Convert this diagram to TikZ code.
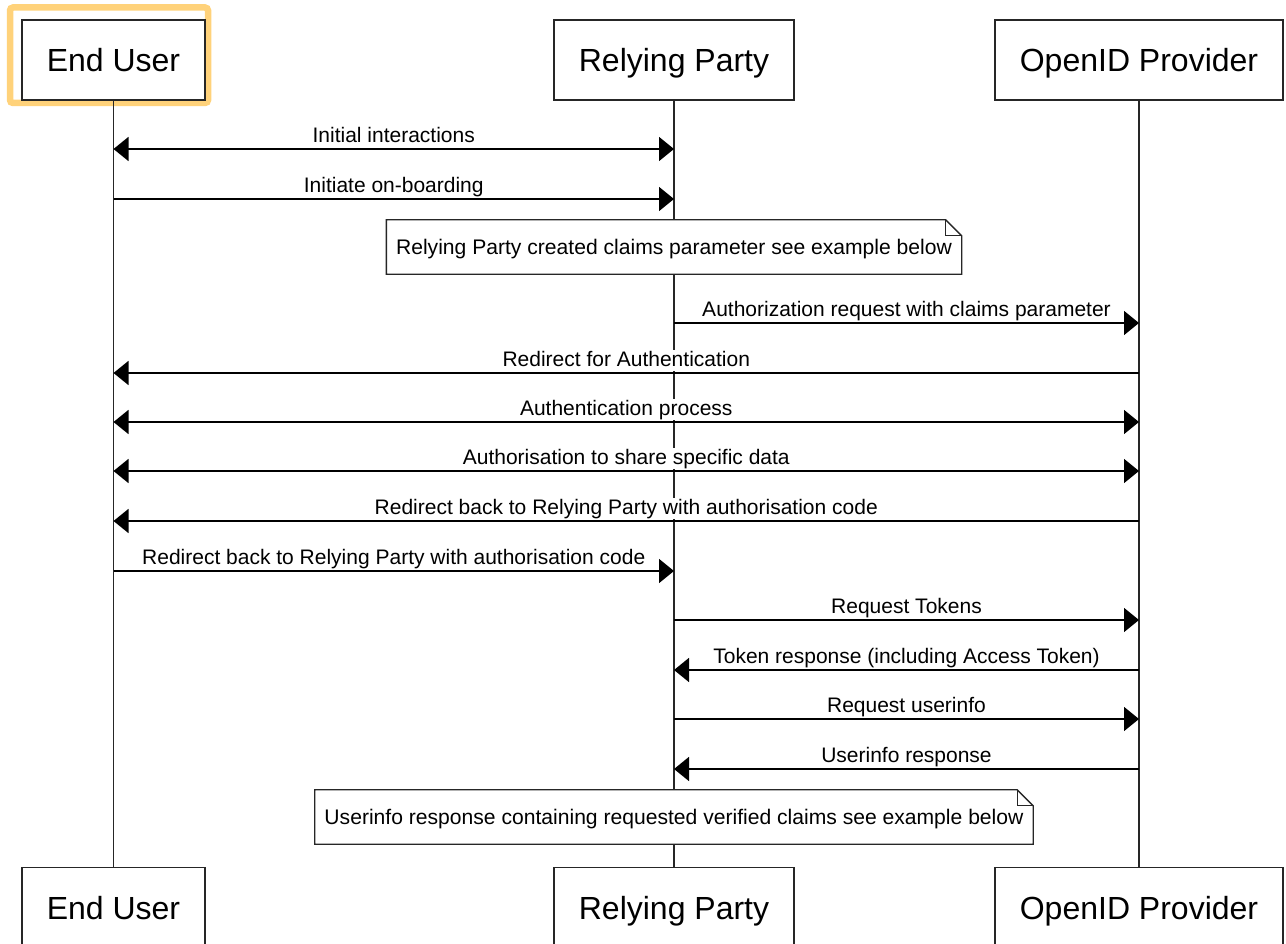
\documentclass[tikz,border=0pt]{standalone}
\usepackage{fontspec}
\setmainfont{Liberation Sans}
\usetikzlibrary{arrows.meta,positioning}

\definecolor{hiorange}{RGB}{255,210,122}

% note with a folded corner
\newcommand{\notefold}[1]{%
  \draw[line width=1.3pt, black!85] (#1.south west) -- (#1.north west)
    -- ([xshift=-16pt]#1.north east) -- ([yshift=-16pt]#1.north east)
    -- (#1.south east) -- cycle;
  \draw[line width=1.3pt, black!85] ([xshift=-16pt]#1.north east)
    -- ([xshift=-16pt,yshift=-16pt]#1.north east) -- ([yshift=-16pt]#1.north east);}

\tikzset{
  actor/.style={draw=black!85, line width=1.5pt, fill=white, minimum height=80pt,
    inner xsep=25pt, text height=23pt, text depth=0pt, font=\fontsize{32}{38}\selectfont},
  life/.style={line width=1.5pt, black!85},
  msg/.style={line width=1.5pt, -{Triangle[length=15pt,width=24pt]}},
  duplex/.style={line width=1.5pt, {Triangle[length=15pt,width=24pt]}-{Triangle[length=15pt,width=24pt]}},
  lbl/.style={above=1pt, fill=white, inner sep=1pt, text height=15pt, text depth=4pt,
    font=\fontsize{21}{25}\selectfont},
  notebox/.style={fill=white, minimum height=54pt, inner xsep=9.5pt, text height=15pt,
    text depth=0pt, font=\fontsize{21.1}{25}\selectfont},
}

\begin{document}
\begin{tikzpicture}[x=1pt, y=-1pt]
\useasboundingbox (0,0) rectangle (1286,944);

\draw[hiorange, line width=6.5pt, rounded corners=3pt] (10,7.5) rectangle (208,103);

\node[actor] (euA) at (113.5,60) {End User};
\node[actor] (rpA) at (674,60) {Relying Party};
\node[actor] (opA) at (1139,60) {OpenID Provider};
\node[actor] (euB) [below=766pt of euA] {End User};
\node[actor] (rpB) [below=766pt of rpA] {Relying Party};
\node[actor] (opB) [below=766pt of opA] {OpenID Provider};

\draw[life] (euA) -- (euB);
\draw[life] (rpA) -- (rpB);
\draw[life] (opA) -- (opB);

\foreach \y [count=\i] in {149,199,323,373,422,471,521,571,620,670,719,769} {
  \coordinate (eu\i) at (euA.center |- 0,\y);
  \coordinate (rp\i) at (rpA.center |- 0,\y);
  \coordinate (op\i) at (opA.center |- 0,\y);
}

\draw[duplex] (eu1) -- node[lbl] {Initial interactions} (rp1);
\draw[msg] (eu2) -- node[lbl] {Initiate on-boarding} (rp2);

\node[notebox] (nt1) at (674,247) {Relying Party created claims parameter see example below};
\notefold{nt1}

\draw[msg] (rp3) -- node[lbl] {Authorization request with claims parameter} (op3);
\draw[msg] (op4) -- node[lbl] {Redirect for Authentication} (eu4);
\draw[duplex] (eu5) -- node[lbl] {Authentication process} (op5);
\draw[duplex] (eu6) -- node[lbl] {Authorisation to share specific data} (op6);
\draw[msg] (op7) -- node[lbl] {Redirect back to Relying Party with authorisation code} (eu7);
\draw[msg] (eu8) -- node[lbl] {Redirect back to Relying Party with authorisation code} (rp8);
\draw[msg] (rp9) -- node[lbl] {Request Tokens} (op9);
\draw[msg] (op10) -- node[lbl] {Token response (including Access Token)} (rp10);
\draw[msg] (rp11) -- node[lbl] {Request userinfo} (op11);
\draw[msg] (op12) -- node[lbl] {Userinfo response} (rp12);

\node[notebox] (nt2) at (674,817) {Userinfo response containing requested verified claims see example below};
\notefold{nt2}
\end{tikzpicture}
\end{document}
